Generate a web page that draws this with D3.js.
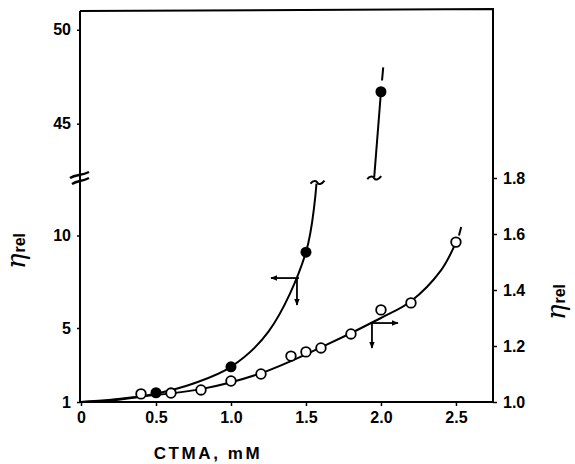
<!DOCTYPE html>
<html><head><meta charset="utf-8">
<script src="https://cdn.jsdelivr.net/npm/d3@7"></script>
<style>body{margin:0;background:#fff}svg{display:block}</style>
</head><body>
<svg id="c" width="575" height="464"></svg>
<script>
// Data: filled circles (left axis, eta_rel), open circles (right axis, eta_rel)
const filledX = [0.5, 1.0, 1.5, 2.0];
const filledY = [1.5, 2.9, 9.1, 46.7];
const openX = [0.4, 0.6, 0.8, 1.0, 1.2, 1.4, 1.5, 1.6, 1.8, 2.0, 2.2, 2.5];
const openY = [1.029, 1.032, 1.043, 1.075, 1.10, 1.164, 1.179, 1.193, 1.243, 1.329, 1.354, 1.571];
// Drawn guide curves
const filledCurveX = [0, 0.25, 0.5, 0.75, 1.0, 1.25, 1.5, 1.57];
const filledCurveY = [1, 1.12, 1.45, 2.0, 2.9, 4.8, 9.1, 12.8];
const upperLineX = [1.955, 2.0];
const upperLineY = [42.15, 46.7];
const openCurveX = [0, 0.2, 0.4, 0.8, 1.2, 1.6, 2.0, 2.2, 2.4, 2.5];
const openCurveY = [1.0, 1.008, 1.02, 1.046, 1.103, 1.195, 1.30, 1.36, 1.47, 1.57];
// Tick labels
const xTicks = [0, 0.5, 1.0, 1.5, 2.0, 2.5];
const yLowTicks = [1, 5, 10];
const yHighTicks = [45, 50];
const yRightTicks = [1.0, 1.2, 1.4, 1.6, 1.8];

const svg = d3.select("#c");
const FONT = "'Liberation Sans', Arial, sans-serif";
const x = d3.scaleLinear().domain([0, 2.747]).range([81, 493]);
const yLow = d3.scaleLinear().domain([1, 13]).range([402, 180]);
const yHigh = d3.scaleLinear().domain([42, 51]).range([180, 11]);
const yR = d3.scaleLinear().domain([1.0, 1.8]).range([402, 178]);

// frame
svg.append("path").attr("d", `M80,11 L80,402 L493,402 L493,9 L80,11`)
  .attr("fill", "none").attr("stroke", "#000").attr("stroke-width", 2);

function styleAxis(g) {
  g.select(".domain").remove();
  g.selectAll(".tick line").attr("stroke", "#000").attr("stroke-width", 1.5);
  g.selectAll(".tick text").attr("font-family", FONT).attr("font-weight", "bold")
    .attr("font-size", 16).attr("fill", "#000");
}
const xAxis = svg.append("g").attr("transform", "translate(0,402)")
  .call(d3.axisBottom(x).tickValues(xTicks).tickSize(4).tickPadding(6)
    .tickFormat(d => d === 0 ? "0" : d3.format(".1f")(d)));
styleAxis(xAxis);
const yl = svg.append("g").attr("transform", "translate(80,0)")
  .call(d3.axisLeft(yLow).tickValues(yLowTicks).tickSize(3).tickPadding(6));
styleAxis(yl);
const yh = svg.append("g").attr("transform", "translate(80,0)")
  .call(d3.axisLeft(yHigh).tickValues(yHighTicks).tickSize(3).tickPadding(6));
styleAxis(yh);
const yr = svg.append("g").attr("transform", "translate(493,0)")
  .call(d3.axisRight(yR).tickValues(yRightTicks).tickSize(4).tickPadding(6)
    .tickFormat(d3.format(".1f")));
styleAxis(yr);

// axis break marks
const brk = (x0, y0, x1, y1) => `M${x0},${y0} C${x0+6},${y0-4} ${x1-8},${y1+3} ${x1},${y1-1}`;
svg.append("path").attr("d", brk(70, 178, 89, 173)).attr("fill", "none").attr("stroke", "#000").attr("stroke-width", 2.5);
svg.append("path").attr("d", brk(72, 184, 89, 179)).attr("fill", "none").attr("stroke", "#000").attr("stroke-width", 2.5);

const curve = d3.line().curve(d3.curveCatmullRom.alpha(0.5));
// filled curve
svg.append("path").attr("d", curve(filledCurveX.map((v, i) => [x(v), yLow(filledCurveY[i])])))
  .attr("fill", "none").attr("stroke", "#000").attr("stroke-width", 2);
// upper line segment
svg.append("path").attr("d", d3.line()(upperLineX.map((v, i) => [x(v), yHigh(upperLineY[i])])))
  .attr("fill", "none").attr("stroke", "#000").attr("stroke-width", 2);
// open curve
svg.append("path").attr("d", curve(openCurveX.map((v, i) => [x(v), yR(openCurveY[i])])))
  .attr("fill", "none").attr("stroke", "#000").attr("stroke-width", 2);

// continuation dashes
svg.append("line").attr("x1", x(2.007)).attr("y1", yHigh(47.3)).attr("x2", x(2.015)).attr("y2", yHigh(48.0))
  .attr("stroke", "#000").attr("stroke-width", 2);
svg.append("line").attr("x1", x(2.52)).attr("y1", yR(1.595)).attr("x2", x(2.535)).attr("y2", yR(1.625))
  .attr("stroke", "#000").attr("stroke-width", 2);

// tilde break marks on curves
const tilde = (cx, cy) => `M${cx-7},${cy+1} C${cx-4},${cy-3} ${cx-1},${cy-2} ${cx},${cy} S${cx+4},${cy+2} ${cx+7},${cy-2}`;
svg.append("path").attr("d", tilde(x(1.57) + 1, yLow(12.8) - 1)).attr("fill", "none").attr("stroke", "#000").attr("stroke-width", 2);
svg.append("path").attr("d", tilde(x(1.955), yHigh(42.15) + 1)).attr("fill", "none").attr("stroke", "#000").attr("stroke-width", 2);

// arrows
const defs = svg.append("defs");
defs.append("marker").attr("id", "ah").attr("viewBox", "0 0 10 10").attr("refX", 9).attr("refY", 5)
  .attr("markerWidth", 7).attr("markerHeight", 7).attr("markerUnits", "userSpaceOnUse").attr("orient", "auto")
  .append("path").attr("d", "M0,1 L10,5 L0,9 Z").attr("fill", "#000");
function arrow(x1, y1, x2, y2) {
  svg.append("line").attr("x1", x1).attr("y1", y1).attr("x2", x2).attr("y2", y2)
    .attr("stroke", "#000").attr("stroke-width", 1.8).attr("marker-end", "url(#ah)");
}
const fa = [x(1.44), yLow(7.7)];
arrow(fa[0] + 2, fa[1], fa[0] - 26, fa[1]);
arrow(fa[0], fa[1], fa[0], fa[1] + 27);
const oa = [x(1.94), yR(1.282)];
arrow(oa[0] - 2, oa[1], oa[0] + 26, oa[1]);
arrow(oa[0], oa[1], oa[0], oa[1] + 25);

// points
svg.selectAll(".op").data(openX).join("circle").attr("class", "op")
  .attr("cx", d => x(d)).attr("cy", (d, i) => yR(openY[i])).attr("r", 4.8)
  .attr("fill", "#fff").attr("stroke", "#000").attr("stroke-width", 1.8);
svg.selectAll(".fp").data(filledX).join("circle").attr("class", "fp")
  .attr("cx", d => x(d)).attr("cy", (d, i) => i < 3 ? yLow(filledY[i]) : yHigh(filledY[i])).attr("r", 5.5)
  .attr("fill", "#000");

// axis titles
svg.append("text").attr("x", 208).attr("y", 459).attr("text-anchor", "middle")
  .attr("font-family", FONT).attr("font-weight", "bold").attr("font-size", 17)
  .attr("letter-spacing", 2.6).text("CTMA, mM");

function etaLabel(cx, cy) {
  const t = svg.append("text").attr("transform", `translate(${cx},${cy}) rotate(-90)`)
    .attr("text-anchor", "middle").attr("font-family", "'DejaVu Serif', serif");
  t.append("tspan").attr("font-style", "italic").attr("font-size", 26).text("η");
  t.append("tspan").attr("font-family", FONT).attr("font-weight", "bold").attr("font-size", 16)
    .attr("dx", 1).attr("dy", 0).text("rel");
}
etaLabel(25, 251);
etaLabel(565, 302);
</script>
</body></html>
